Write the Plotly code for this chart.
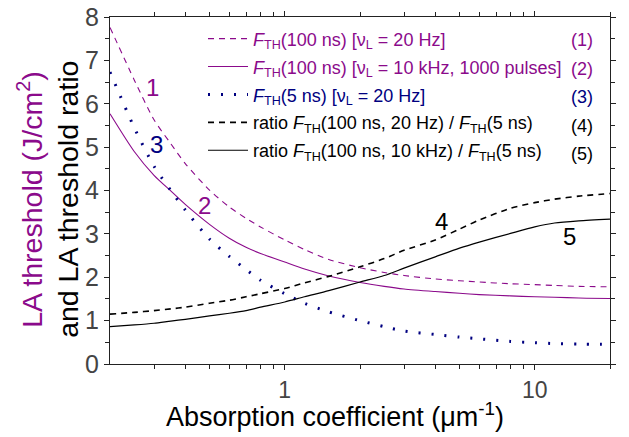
import math
import plotly.graph_objects as go

# Absorption coefficient (um^-1)
alpha = [0.2, 0.25, 0.3, 0.35, 0.4, 0.5, 0.6, 0.7, 0.8, 1.0, 1.2, 1.5, 2, 2.5, 3, 4, 5, 6, 8, 10, 12, 15, 20]

# (1) F_TH(100 ns) [nu_L = 20 Hz]
f100_20hz = [7.76, 6.55, 5.63, 5.08, 4.62, 4.01, 3.62, 3.36, 3.16, 2.86, 2.64, 2.41, 2.22, 2.11, 2.04, 1.96, 1.92, 1.89, 1.85, 1.83, 1.81, 1.79, 1.78]
# (2) F_TH(100 ns) [nu_L = 10 kHz, 1000 pulses]
f100_10khz = [5.77, 4.90, 4.35, 3.99, 3.68, 3.22, 2.90, 2.69, 2.55, 2.35, 2.19, 2.03, 1.88, 1.79, 1.73, 1.67, 1.63, 1.60, 1.57, 1.55, 1.54, 1.52, 1.51]
# (3) F_TH(5 ns) [nu_L = 20 Hz]
f5_20hz = [6.73, 5.45, 4.56, 4.00, 3.55, 2.88, 2.48, 2.18, 1.93, 1.62, 1.40, 1.20, 1.00, 0.86, 0.76, 0.68, 0.62, 0.58, 0.52, 0.49, 0.47, 0.46, 0.45]
# (4) ratio F_TH(100 ns, 20 Hz) / F_TH(5 ns)
ratio_20hz = [1.15, 1.19, 1.23, 1.27, 1.31, 1.40, 1.47, 1.55, 1.62, 1.74, 1.87, 2.02, 2.24, 2.43, 2.62, 2.86, 3.11, 3.32, 3.59, 3.72, 3.80, 3.87, 3.93]
# (5) ratio F_TH(100 ns, 10 kHz) / F_TH(5 ns)
ratio_10khz = [0.86, 0.90, 0.94, 0.99, 1.03, 1.11, 1.17, 1.23, 1.31, 1.43, 1.55, 1.69, 1.89, 2.04, 2.21, 2.47, 2.67, 2.81, 3.01, 3.16, 3.25, 3.30, 3.34]

legend_names = [
    "<i>F</i><sub>TH</sub>(100 ns) [ν<sub>L</sub> = 20 Hz]",
    "<i>F</i><sub>TH</sub>(100 ns) [ν<sub>L</sub> = 10 kHz, 1000 pulses]",
    "<i>F</i><sub>TH</sub>(5 ns) [ν<sub>L</sub> = 20 Hz]",
    "ratio <i>F</i><sub>TH</sub>(100 ns, 20 Hz) / <i>F</i><sub>TH</sub>(5 ns)",
    "ratio <i>F</i><sub>TH</sub>(100 ns, 10 kHz) / <i>F</i><sub>TH</sub>(5 ns)",
]
legend_numbers = ["(1)", "(2)", "(3)", "(4)", "(5)"]
legend_rows_y = [7.47, 6.80, 6.15, 5.48, 4.84]

curve_labels = ["1", "2", "3", "4", "5"]
label_x = [0.295, 0.476, 0.307, 4.23, 13.8]
label_y = [6.38, 3.66, 5.05, 3.28, 2.93]

PURPLE = "#8B0A8B"
BLUE = "#000080"
BLACK = "#000000"
FONT = "Liberation Sans, Arial"

series = [f100_20hz, f100_10khz, f5_20hz, ratio_20hz, ratio_10khz]
colors = [PURPLE, PURPLE, BLUE, BLACK, BLACK]
widths = [1.1, 1.1, 3, 1.6, 1.2]
dashes = ["6px,5px", "solid", "2px,11px", "6px,5px", "solid"]

fig = go.Figure()
for i, (ys, c, w, d, name) in enumerate(zip(series, colors, widths, dashes, legend_names)):
    fig.add_trace(go.Scatter(
        x=alpha, y=ys, mode="lines", legendgroup=f"g{i}",
        line=dict(color=c, width=w, dash=d, shape="spline", smoothing=0.7),
        name=f"<span style='color:{c}'>{name}</span>",
    ))

for t, x, y, c in zip(curve_labels, label_x, label_y, colors):
    fig.add_annotation(x=math.log10(x), y=y, xref="x", yref="y", text=t, showarrow=False,
                       font=dict(size=24, color=c, family=FONT))

for t, y, c in zip(legend_numbers, legend_rows_y, colors):
    fig.add_annotation(x=0.97, y=y, xref="paper", yref="y", xanchor="right", yanchor="middle",
                       text=t, showarrow=False, font=dict(size=18, color=c, family=FONT))

# Y-axis titles (two colours)
fig.add_annotation(x=-0.16, y=0.473, xref="paper", yref="paper", textangle=-90,
                   xanchor="center", yanchor="middle",
                   text="LA threshold (J/cm<sup>2</sup>)", showarrow=False,
                   font=dict(size=28.5, color=PURPLE, family=FONT))
fig.add_annotation(x=-0.084, y=0.473, xref="paper", yref="paper", textangle=-90,
                   xanchor="center", yanchor="middle",
                   text="and LA threshold ratio", showarrow=False,
                   font=dict(size=28.5, color=BLACK, family=FONT))
# X-axis title
fig.add_annotation(x=0.45, y=-0.148, xref="paper", yref="paper",
                   xanchor="center", yanchor="middle",
                   text="Absorption coefficient (μm<sup>-1</sup>)", showarrow=False,
                   font=dict(size=27, color=BLACK, family=FONT))

axis_common = dict(showline=True, linecolor="#222", linewidth=1, mirror="ticks",
                   ticks="outside", ticklen=5, tickcolor="#222", showgrid=False, zeroline=False,
                   automargin=False, ticklabeloverflow="allow")

fig.update_xaxes(type="log", range=[-0.69897, 1.30103], tickvals=[1, 10], ticktext=["1", "10"],
                 tickfont=dict(size=23, color="#444", family=FONT),
                 minor=dict(ticks="outside", ticklen=4, tickcolor="#222",
                            tickvals=[0.3, 0.4, 0.5, 0.6, 0.7, 0.8, 0.9, 2, 3, 4, 5, 6, 7, 8, 9, 20]),
                 **axis_common)
fig.update_yaxes(range=[0, 8], dtick=1,
                 tickfont=dict(size=25, color="#444", family=FONT),
                 minor=dict(ticks="outside", ticklen=4, tickcolor="#222", dtick=0.5),
                 **axis_common)

# The page body has an 8px margin, so the figure is 8px smaller and margins shifted.
fig.update_layout(
    width=621, height=429,
    margin=dict(l=102, r=19, t=9, b=73, autoexpand=False),
    plot_bgcolor="white", paper_bgcolor="white",
    font=dict(family=FONT, size=18),
    showlegend=True,
    legend=dict(x=0.186, y=0.99, xanchor="left", yanchor="top", bgcolor="rgba(0,0,0,0)",
                font=dict(size=18), itemwidth=40, tracegroupgap=1.5, traceorder="grouped"),
)

fig.write_html("out.html")
